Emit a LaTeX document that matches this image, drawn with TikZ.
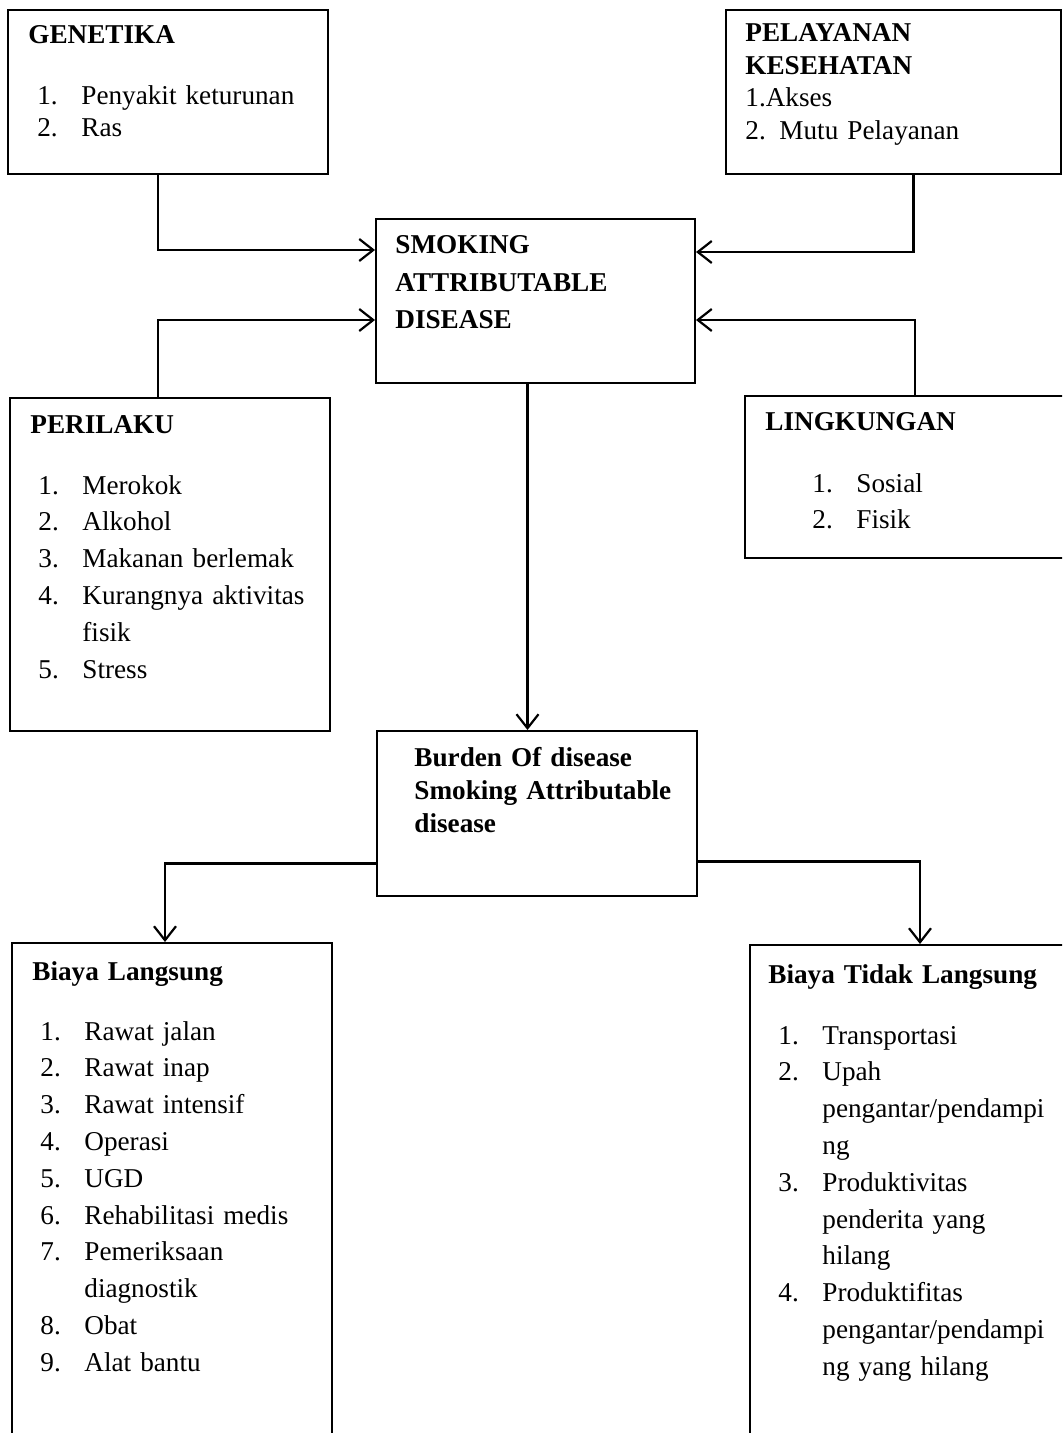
\documentclass[tikz,border=0pt]{standalone}
\usepackage{fontspec}
\setmainfont{Liberation Serif}
\usepackage{tikz}
\usetikzlibrary{arrows.meta,positioning,fit}

\newcommand{\itemno}[1]{\makebox[22pt][l]{#1}}

\begin{document}
\begin{tikzpicture}[x=0.5pt,y=-0.5pt,
    box/.style={draw, line width=1pt, inner sep=0pt},
    head/.style={anchor=base west, inner sep=0pt, text width=200pt, align=left,
        font=\fontsize{13.6}{16}\selectfont\bfseries},
    lst/.style={anchor=base west, inner sep=0pt, text width=200pt, align=left,
        font=\fontsize{13.6}{18.4}\selectfont},
    link/.style={line width=1.1pt, -{Straight Barb[length=7pt,width=11pt,line width=1.1pt]}}]
\useasboundingbox (0,0) rectangle (1062,1433);
\clip (0,0) rectangle (1062,1433);
% Boxes
\node[box, fit={(8,10) (328,174)}] (gen) {};
\node[box, fit={(726,10) (1061,174)}] (pel) {};
\node[box, fit={(376,219) (695,383)}] (smk) {};
\node[box, fit={(10,398) (330,731)}] (per) {};
\node[box, fit={(745,396) (1085,558)}] (lin) {};
\node[box, fit={(377,731) (697,896)}] (bur) {};
\node[box, fit={(12,943) (332,1500)}] (bl) {};
\node[box, fit={(750,945) (1090,1500)}] (bt) {};
% Texts
\node[head] (genH) at (28,44) {GENETIKA};
\node[lst, font=\fontsize{13.6}{16}\selectfont] (genL) at (37,105)
    {\itemno{1.}Penyakit keturunan\\ \itemno{2.}Ras};
\node[lst, font=\fontsize{13.6}{16.2}\selectfont] (pelL) at (745,42)
    {\textbf{PELAYANAN}\\ \textbf{KESEHATAN}\\ 1.Akses\\ 2. Mutu Pelayanan};
\node[head, font=\fontsize{13.6}{18.7}\selectfont\bfseries] (smkH) at (395,254)
    {SMOKING\\ ATTRIBUTABLE\\ DISEASE};
\node[head] (perH) at (30,433) {PERILAKU};
\node[lst] (perL) at (38,494)
    {\itemno{1.}Merokok\\ \itemno{2.}Alkohol\\ \itemno{3.}Makanan berlemak\\
     \itemno{4.}Kurangnya aktivitas\\ \itemno{}fisik\\ \itemno{5.}Stress};
\node[head] (linH) at (765,430) {LINGKUNGAN};
\node[lst, font=\fontsize{13.6}{18}\selectfont] (linL) at (812,492)
    {\itemno{1.}Sosial\\ \itemno{2.}Fisik};
\node[head, font=\fontsize{13.6}{16.5}\selectfont\bfseries] (burH) at (414,766)
    {Burden Of disease\\ Smoking Attributable\\ disease};
\node[head] (blH) at (32,980) {Biaya Langsung};
\node[lst] (blL) at (40,1040)
    {\itemno{1.}Rawat jalan\\ \itemno{2.}Rawat inap\\ \itemno{3.}Rawat intensif\\
     \itemno{4.}Operasi\\ \itemno{5.}UGD\\ \itemno{6.}Rehabilitasi medis\\
     \itemno{7.}Pemeriksaan\\ \itemno{}diagnostik\\ \itemno{8.}Obat\\ \itemno{9.}Alat bantu};
\node[head] (btH) at (768,983) {Biaya Tidak Langsung};
\node[lst] (btL) at (778,1044)
    {\itemno{1.}Transportasi\\ \itemno{2.}Upah\\ \itemno{}pengantar/pendampi\\ \itemno{}ng\\
     \itemno{3.}Produktivitas\\ \itemno{}penderita yang\\ \itemno{}hilang\\
     \itemno{4.}Produktifitas\\ \itemno{}pengantar/pendampi\\ \itemno{}ng yang hilang};
% Connectors
\draw[link] ([xshift=-5pt]gen.south) |- ([yshift=25.5pt]smk.west);
\draw[link] ([xshift=10pt]pel.south) |- ([yshift=24.5pt]smk.east);
\draw[link] ([xshift=-6pt]per.north) |- ([yshift=-9.5pt]smk.west);
\draw[link] (lin.north) |- ([yshift=-9.5pt]smk.east);
\draw[link] ([xshift=-4pt]smk.south) coordinate (s1) -- (s1 |- bur.north);
\draw[link] ([yshift=-25pt]bur.west) -| ([xshift=-3.5pt]bl.north);
\draw[link] ([yshift=-24pt]bur.east) -| (bt.north);
\end{tikzpicture}
\end{document}
